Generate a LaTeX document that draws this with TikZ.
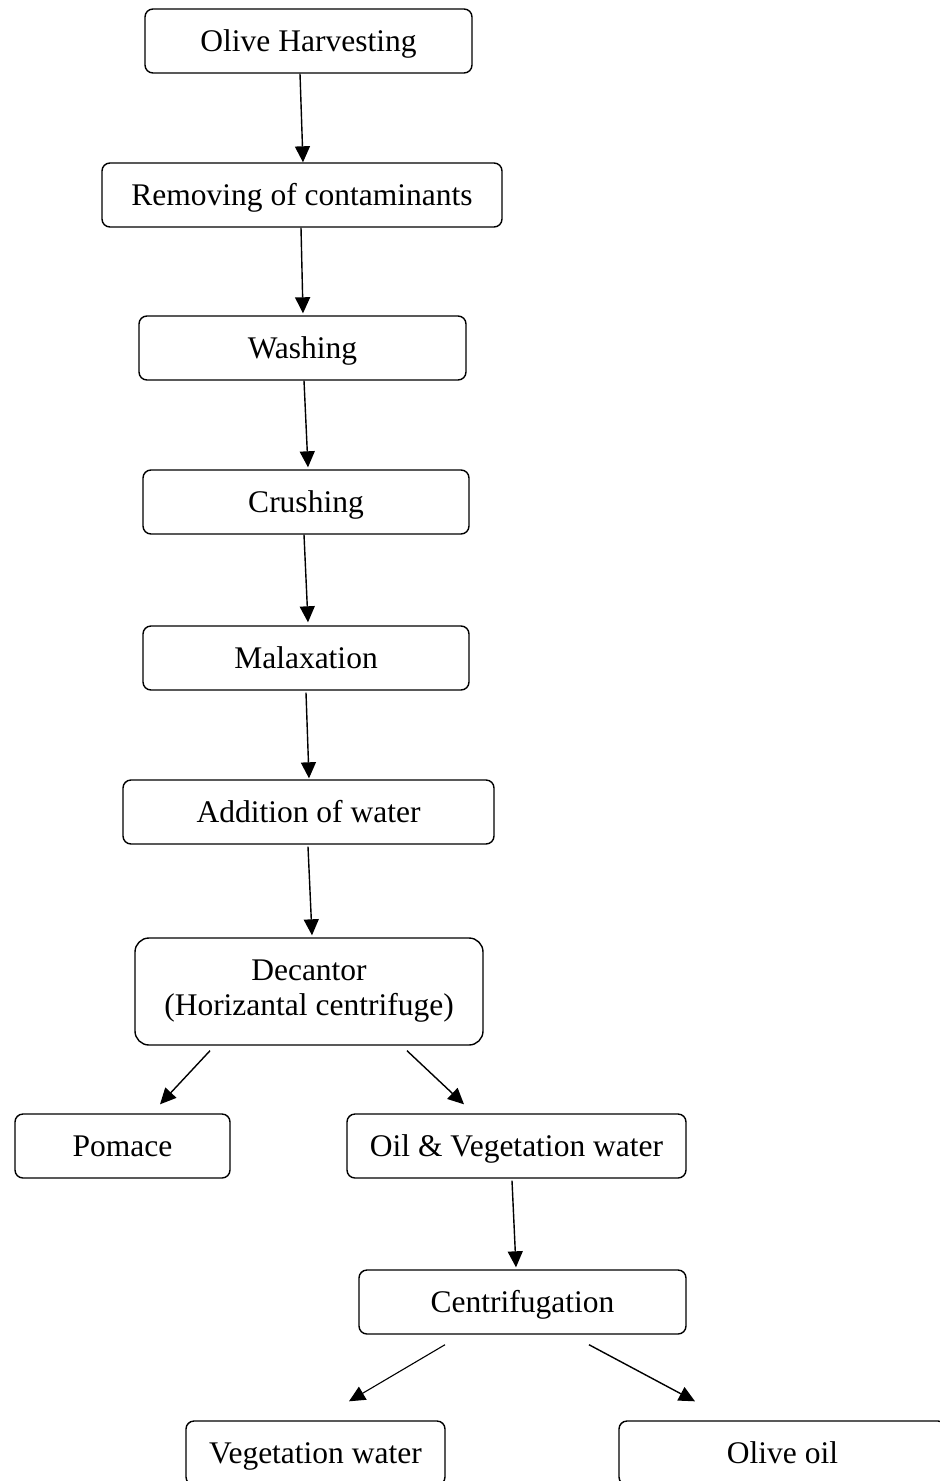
\documentclass[tikz,border=0pt]{standalone}
\usepackage{fontspec}
\setmainfont{Liberation Serif}
\usetikzlibrary{arrows.meta, calc}

\begin{document}
\begin{tikzpicture}[x=1pt, y=-1pt, >={Triangle[length=16pt, width=15pt]},
    proc/.style={draw, rectangle, rounded corners=8pt, line width=1.4pt, minimum width=327pt, minimum height=64pt, inner sep=0pt, text height=24pt, text depth=3pt, align=center, font=\fontsize{31.5}{35}\selectfont}]
    \useasboundingbox (0,0) rectangle (940,1481);
    \node[proc] (harvest) at (308.5,41) {Olive Harvesting};
    \node[proc, minimum width=400pt] (remove) at (302,195) {Removing of contaminants};
    \node[proc] (wash) at (302.5,348) {Washing};
    \node[proc, minimum width=326pt] (crush) at (306,502) {Crushing};
    \node[proc, minimum width=326pt] (malax) at (306,658) {Malaxation};
    \node[proc, minimum width=371pt] (water) at (308.5,812) {Addition of water};
    \node[proc, minimum width=348pt, minimum height=107pt, rounded corners=14pt, text height=, text depth=] (decant) at (309,991.5) {Decantor\\(Horizantal centrifuge)};
    \node[proc, minimum width=215pt] (pomace) at (122.5,1146) {Pomace};
    \node[proc, minimum width=339pt] (oilveg) at (516.5,1146) {Oil \& Vegetation water};
    \node[proc] (centri) at (522.5,1302) {Centrifugation};
    \node[proc, minimum width=259pt] (vegwater) at (315.5,1453) {Vegetation water};
    \node[proc] (oliveoil) at (782.5,1453) {Olive oil};
    % main line
    \draw[->, line width=1.4pt] ($(harvest.south)+(-8.5,0)$) -- ($(remove.north)+(1,0)$);
    \draw[->, line width=1.4pt] ($(remove.south)+(-1,0)$) -- ($(wash.north)+(0.5,-2)$);
    \draw[->, line width=1.4pt] ($(wash.south)+(1.5,0)$) -- ($(crush.north)+(2,-2)$);
    \draw[->, line width=1.4pt] ($(crush.south)+(-2,0)$) -- ($(malax.north)+(2,-3)$);
    \draw[->, line width=1.4pt] ($(malax.south)+(0,2)$) -- ($(water.north)+(0.5,-1)$);
    \draw[->, line width=1.4pt] ($(water.south)+(-0.5,2)$) -- ($(decant.north)+(3,-2)$);
    % split
    \draw[->, line width=1.4pt] ($(decant.south)+(-99,5)$) -- ($(pomace.north)+(37.5,-9)$);
    \draw[->, line width=1.4pt] ($(decant.south)+(98,5)$) -- ($(oilveg.north)+(-52.5,-9)$);
    \draw[->, line width=1.4pt] ($(oilveg.south)+(-4.5,2)$) -- ($(centri.north)+(-6.5,-2)$);
    \draw[->, line width=1.1pt] ($(centri.south)+(-77.5,10)$) -- ($(vegwater.north)+(33.5,-19)$);
    \draw[->, line width=1.4pt] ($(centri.south)+(66.5,10)$) -- ($(oliveoil.north)+(-87.5,-19)$);
\end{tikzpicture}
\end{document}
